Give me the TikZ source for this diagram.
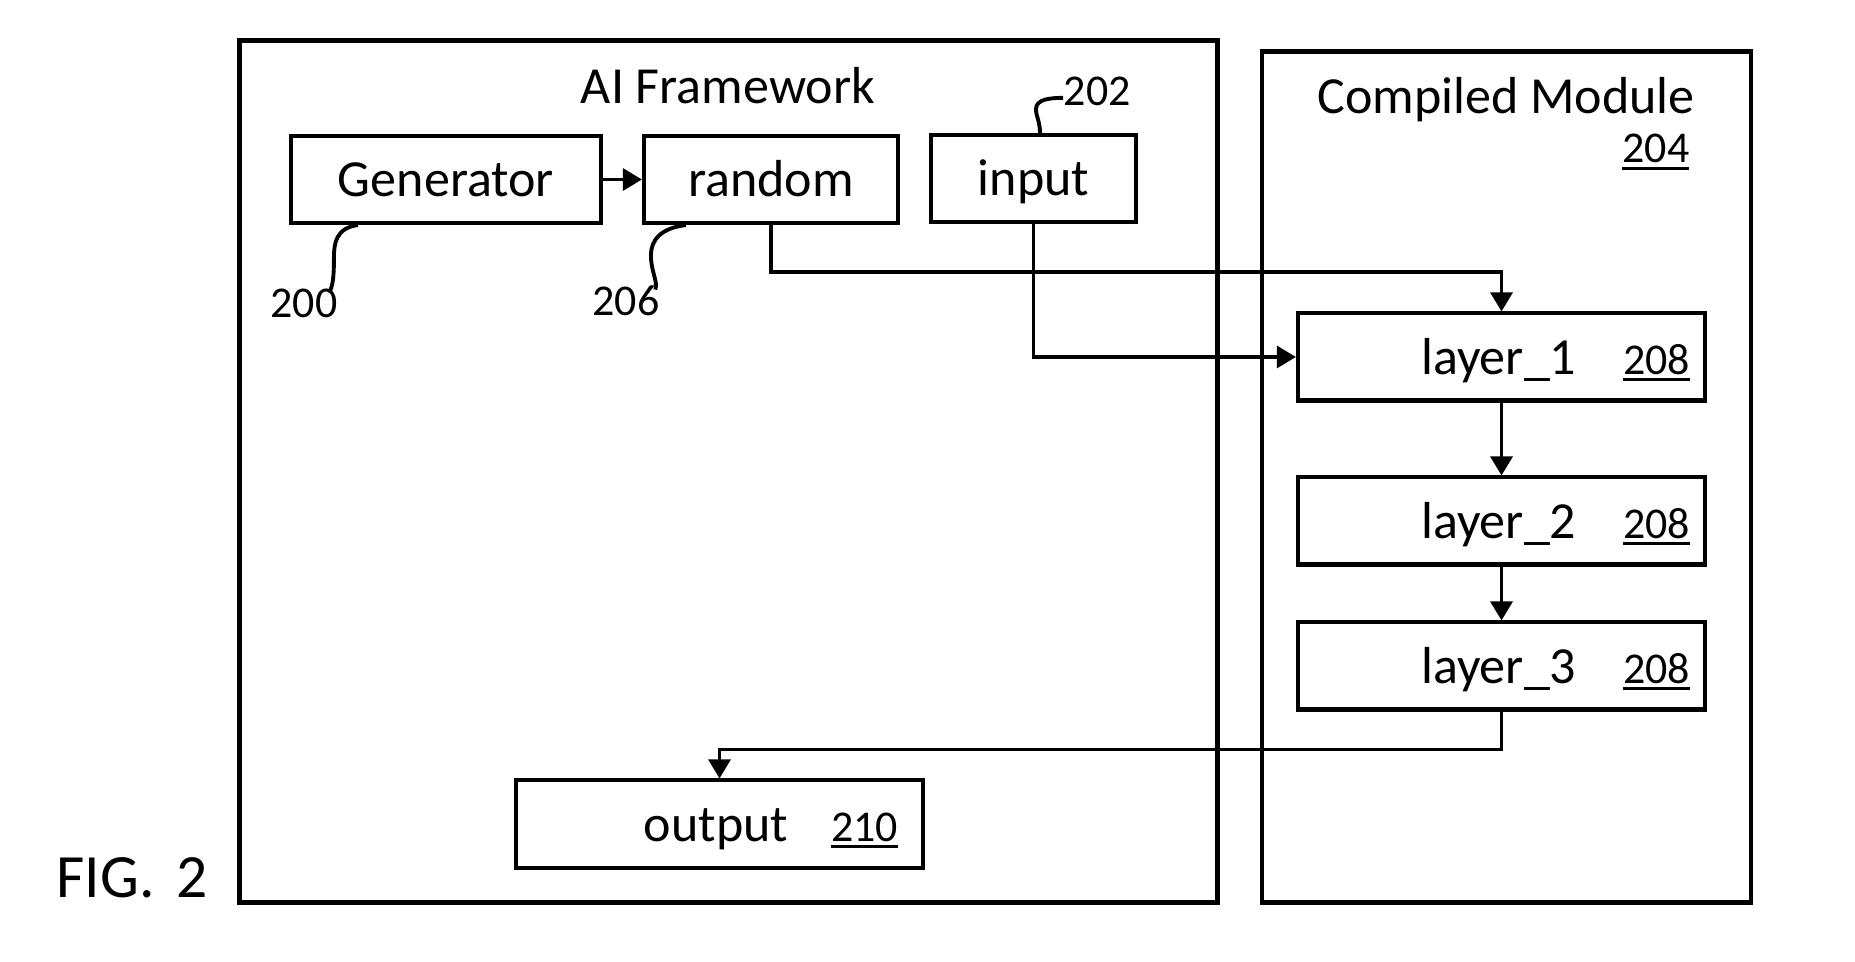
\documentclass[tikz,border=0pt]{standalone}
\usepackage{fontspec}
\setmainfont{Carlito}
\usetikzlibrary{arrows.meta}

% underlined reference number
\newcommand\refno[1]{{\fontsize{12.5}{15}\selectfont\setbox0\hbox{#1}\rlap{\rule[-1.9pt]{\wd0}{0.85pt}}\box0}}

\begin{document}
\begin{tikzpicture}[x=0.01cm,y=-0.01cm,
    every node/.style={font=\fontsize{14.8}{17}\selectfont},
    frame/.style={draw,line width=1.3pt,inner sep=0},
    box/.style={draw,line width=1.15pt,minimum height=0.87cm,inner sep=0,text height=0.45cm,text depth=0.10cm},
    laybox/.style={box,text width=3.77cm,inner xsep=0.15cm,align=right},
    num/.style={font=\fontsize{12.5}{15}\selectfont,inner sep=0},
    conn/.style={line width=0.9pt,-{Triangle[length=0.19cm,width=0.22cm]}},
    lead/.style={line width=1.1pt}]
  \useasboundingbox (0,0) rectangle (1855,962);

  % the two frames
  \node[frame,minimum width=9.77cm,minimum height=8.61cm] (aifw) at (728.5,471.5) {};
  \node[frame,minimum width=4.89cm,minimum height=8.50cm] (cmod) at (1506.5,477) {};
  \node[anchor=base] (aititle) at (728,104) {AI Framework};
  \node[anchor=base] (cmtitle) at (1506,114) {Compiled Module};
  \node[anchor=base east,inner sep=0] (n204) at (1690,163) {\refno{204}};

  % framework side
  \node[box,minimum width=3.10cm] (gen) at (446,179.5) {Generator};
  \node[box,minimum width=2.54cm] (rnd) at (771,179.5) {random};
  \node[box,minimum width=2.05cm] (in) at (1033.5,178.5) {input};
  \node[box,text width=3.57cm,inner xsep=0.25cm,align=right] (out) at (719.5,824)
    {output\hspace{0.43cm}\refno{210}};

  % module side
  \node[laybox] (l1) at (1501.5,357) {layer\_1\hspace{0.47cm}\refno{208}};
  \node[laybox] (l2) at (1501.5,521) {layer\_2\hspace{0.47cm}\refno{208}};
  \node[laybox] (l3) at (1501.5,666) {layer\_3\hspace{0.47cm}\refno{208}};

  \node[num,anchor=base west] (n200) at (270,318) {200};
  \node[num,anchor=base west] (n206) at (592,316) {206};
  \node[num,anchor=base west] (n202) at (1063,106) {202};
  \node[anchor=base west,inner sep=0,font=\fontsize{17.5}{20}\selectfont] (fig) at (56,898) {FIG.\hspace{0.35em}2};

  \draw[conn] (gen) -- (rnd);
  \draw[conn] (rnd.south) -- ++(0,47) -| (l1.north);
  \draw[conn] (in.south) |- (l1.west);
  \draw[conn] (l1) -- (l2);
  \draw[conn] (l2) -- (l3);
  \draw[conn] (l3.south) -- ++(0,38) -| (out.north);

  % lead lines to the numbers
  \draw[lead] ([xshift=0.69cm]gen.south west) .. controls +(-22,3) and +(0,-15) .. ++(-24,33)
    .. controls +(0,17) and +(4,-8) .. ([xshift=-0.09cm,yshift=-0.04cm]n200.north east);
  \draw[lead] ([xshift=0.44cm]rnd.south west) .. controls +(-25,3) and +(0,-15) .. ++(-35,30)
    .. controls +(0,17) and +(3,-8) .. ([xshift=-0.05cm,yshift=-0.04cm]n206.north east);
  \draw[lead] ([xshift=1.11cm]in.north west) .. controls +(0,-12) and +(0,8) .. ++(-4,-24)
    .. controls +(0,-10) and +(-12,0) .. ([yshift=-0.06cm]n202.west);
\end{tikzpicture}
\end{document}
